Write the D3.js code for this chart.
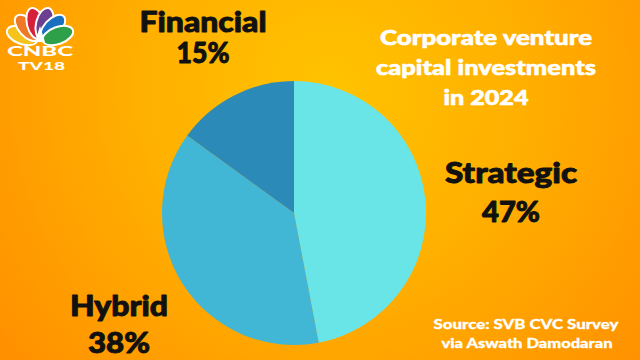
<!DOCTYPE html>
<html><head><meta charset="utf-8">
<script src="https://cdn.jsdelivr.net/npm/d3@7"></script>
<style>html,body{margin:0;padding:0;overflow:hidden}svg{display:block}</style>
</head><body>
<script>
const categories = ["Strategic", "Hybrid", "Financial"];
const values = [47, 38, 15];
const colors = ["#6ae5e7", "#42b6d5", "#2c8ab9"];
const titleLines = ["Corporate venture", "capital investments", "in 2024"];
const sourceLines = ["Source: SVB CVC Survey", "via Aswath Damodaran"];

const W = 640, H = 360;
const svg = d3.select("body").append("svg").attr("width", W).attr("height", H);
const defs = svg.append("defs");
const grad = defs.append("radialGradient").attr("id", "bg")
  .attr("gradientUnits", "userSpaceOnUse").attr("cx", 330).attr("cy", 90).attr("r", 420);
grad.append("stop").attr("offset", "0%").attr("stop-color", "#ffc300");
grad.append("stop").attr("offset", "45%").attr("stop-color", "#ffb000");
grad.append("stop").attr("offset", "100%").attr("stop-color", "#ff9000");
svg.append("rect").attr("width", W).attr("height", H).attr("fill", "url(#bg)");

const font = "Lato, 'Noto Sans', sans-serif";

// pie
const cx = 294, cy = 213, R = 132;
const pie = d3.pie().sort(null).value(d => d.v);
const arc = d3.arc().innerRadius(0).outerRadius(R);
const data = categories.map((c, i) => ({c, v: values[i], col: colors[i]}));
const g = svg.append("g").attr("transform", `translate(${cx},${cy})`);
g.selectAll("path").data(pie(data)).join("path")
  .attr("d", arc).attr("fill", d => d.data.col);

// labels: [x, nameBaseline, pctBaseline, nameWidth, pctWidth]
const labelPos = {
  Strategic: [511, 183, 222, 132, 58],
  Hybrid: [119, 316, 353, 98, 62],
  Financial: [203, 32, 63, 127, 53]
};
data.forEach(d => {
  const p = labelPos[d.c];
  const t = svg.append("g").attr("font-family", font).attr("font-weight", 900)
    .attr("text-anchor", "middle").attr("fill", "#111")
    .attr("stroke", "#111").attr("stroke-width", 0.9).attr("stroke-linejoin", "round");
  t.append("text").attr("x", p[0]).attr("y", p[1]).attr("font-size", 28)
    .attr("textLength", p[3]).attr("lengthAdjust", "spacingAndGlyphs").text(d.c);
  t.append("text").attr("x", p[0]).attr("y", p[2]).attr("font-size", 28)
    .attr("textLength", p[4]).attr("lengthAdjust", "spacingAndGlyphs").text(d.v + "%");
});

// title
const titleW = [212, 220, 85];
svg.append("g").selectAll("text").data(titleLines).join("text")
  .attr("x", 486).attr("y", (d, i) => 45 + i * 30)
  .attr("text-anchor", "middle").attr("fill", "#fff")
  .attr("stroke", "#fff").attr("stroke-width", 0.6).attr("stroke-linejoin", "round")
  .attr("font-family", font).attr("font-weight", 900).attr("font-size", 21)
  .attr("textLength", (d, i) => titleW[i]).attr("lengthAdjust", "spacingAndGlyphs")
  .text(d => d);

// source
const srcX = [526, 527], srcW = [185, 171];
svg.append("g").selectAll("text").data(sourceLines).join("text")
  .attr("x", (d, i) => srcX[i]).attr("y", (d, i) => 329 + i * 19)
  .attr("text-anchor", "middle").attr("fill", "#fff")
  .attr("stroke", "#fff").attr("stroke-width", 0.3)
  .attr("font-family", font).attr("font-weight", 900).attr("font-size", 13.5)
  .attr("textLength", (d, i) => srcW[i]).attr("lengthAdjust", "spacingAndGlyphs")
  .text(d => d);

// logo
const logo = svg.append("g").attr("transform", "translate(40,42)");
const feathers = [
  {a: -70, c: "#f6c21c"}, {a: -42, c: "#ef7a23"}, {a: -14, c: "#d6203a"},
  {a: 14, c: "#6c3f91"}, {a: 42, c: "#1a70c0"}, {a: 70, c: "#2ea04a"}
];
feathers.forEach(f => {
  logo.append("ellipse").attr("cx", 0).attr("cy", -19).attr("rx", 8.5).attr("ry", 16)
    .attr("transform", `rotate(${f.a})`).attr("fill", f.c)
    .attr("stroke", "#fff").attr("stroke-width", 2);
});
logo.append("path").attr("d", "M-5,0 L0,-16 L5,0 Z").attr("fill", "#fff");
svg.append("text").attr("x", 40).attr("y", 56).attr("text-anchor", "middle")
  .attr("fill", "#fff").attr("font-family", font).attr("font-weight", 900)
  .attr("font-size", 13).attr("textLength", 66).attr("lengthAdjust", "spacingAndGlyphs").text("CNBC");
svg.append("text").attr("x", 41.5).attr("y", 70).attr("text-anchor", "middle")
  .attr("fill", "#fff").attr("font-family", font).attr("font-weight", 900)
  .attr("font-size", 12).attr("textLength", 47).attr("lengthAdjust", "spacingAndGlyphs").text("TV18");
</script>
</body></html>
